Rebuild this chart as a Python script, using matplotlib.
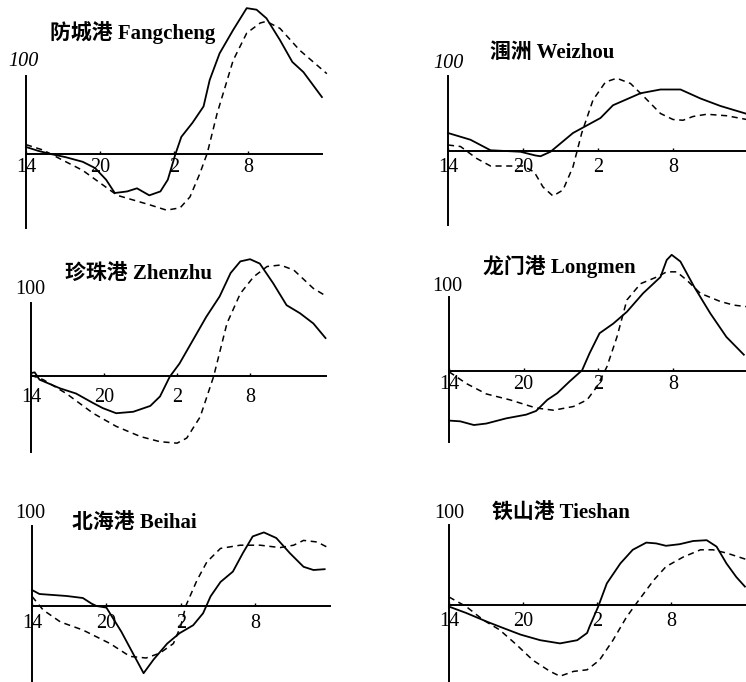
import matplotlib
matplotlib.use("Agg")
import matplotlib.pyplot as plt

# ---------------- data (hours after 14:00, value) ----------------
tick_hours = [0, 6, 12, 18]
tick_labels = ["14", "20", "2", "8"]

titles = ["防城港 Fangcheng", "涠洲 Weizhou", "珍珠港 Zhenzhu",
          "龙门港 Longmen", "北海港 Beihai", "铁山港 Tieshan"]

fang_solid_h = [0, 1, 2, 3.2, 4.6, 5.6, 6.5, 7.2, 8.2, 9.0, 10.0, 10.9, 11.5, 12.1, 12.6, 13.5,
                14.4, 14.9, 15.7, 16.8, 17.9, 18.7, 19.5, 20.6, 21.6, 22.5, 24.0]
fang_solid_v = [9, 4, 0, -4, -10, -18, -33, -50, -48, -44, -53, -48, -33, -1, 22, 40,
                61, 95, 129, 159, 187, 185, 174, 146, 118, 105, 73]
fang_dash_h = [0, 1.4, 2, 4.6, 7.4, 10, 11.4, 12.5, 13.3, 14.1, 14.7, 15.5, 16.8, 17.9, 19,
               19.5, 20.6, 22.2, 24.4]
fang_dash_v = [12, 5, 0, -21, -53, -65, -72, -69, -55, -25, 1, 52, 120, 155, 168,
               170, 161, 133, 103]

wei_solid_h = [0, 1.8, 3.4, 5.8, 7.0, 7.4, 8.2, 10, 12.2, 13.2, 15.4, 17, 18.6, 20.2, 21.8, 23.8]
wei_solid_v = [24, 15, 1, -1, -6, -7, -1, 24, 44, 61, 77, 82, 82, 70, 60, 50]
wei_dash_h = [0, 1, 2.3, 3.4, 4.7, 6.0, 6.9, 7.6, 8.4, 9.2, 10, 10.7, 11.6, 12.6, 13.5, 14.6,
              15.7, 17, 18, 18.8, 19.6, 20.7, 22.3, 23.9]
wei_dash_v = [8, 6, -10, -20, -20, -20, -28, -48, -60, -52, -21, 24, 68, 92, 97, 90,
              72, 50, 42, 41, 46, 49, 47, 42]

zhen_solid_h = [0, 0.3, 0.7, 2.4, 3.7, 5.1, 5.9, 7, 8.4, 9.8, 10.6, 11.4, 12.2, 13.3, 14.4,
                15.5, 16.4, 17.2, 18, 18.8, 19.9, 21, 22.1, 23.2, 24.2]
zhen_solid_v = [4, 5, -5, -17, -24, -37, -44, -51, -49, -41, -28, -1, 17, 49, 81,
                109, 141, 157, 160, 154, 127, 97, 86, 72, 52]
zhen_dash_h = [0, 1, 2.9, 5.1, 7, 9, 10.6, 12, 12.8, 13.9, 15, 16.1, 17.2, 18.3, 19.4, 20.5,
               21.6, 23.2, 24.3]
zhen_dash_v = [1, -5, -24, -51, -69, -83, -90, -92, -85, -56, -1, 72, 113, 136, 150, 152,
               145, 120, 109]

long_solid_h = [0, 0.9, 2, 3, 4.6, 6.2, 7, 7.9, 8.7, 9.7, 10.7, 11.3, 12.1, 13.2, 14.3, 15.6,
                17, 17.5, 17.9, 18.6, 19.7, 21, 22.3, 23.7]
long_solid_v = [-67, -68, -73, -71, -64, -59, -54, -39, -30, -14, 1, 24, 51, 64, 80, 105,
                127, 150, 157, 148, 114, 78, 46, 22]
long_dash_h = [0, 1.4, 3, 4.9, 7, 8.4, 10, 11.1, 11.9, 12.7, 13.5, 14.3, 15.4, 16.7, 17.5,
               18.3, 19.1, 20.2, 21.8, 22.9, 23.9]
long_dash_v = [-1, -17, -31, -39, -50, -53, -48, -39, -21, 6, 46, 96, 118, 127, 134,
               134, 123, 105, 94, 89, 87]

bei_solid_h = [0, 0.6, 2.8, 4.1, 4.8, 5.2, 6.0, 7.2, 9, 9.8, 10.9, 11.9, 13, 13.8, 14.4, 15.2,
               16.2, 17, 17.8, 18.7, 19.7, 20.8, 21.9, 22.7, 23.6]
bei_solid_v = [20, 15, 12.5, 10, 3, 0, -2, -32, -84, -67, -47, -34, -24, -9, 12, 30,
               43, 66, 87, 92, 85, 66, 49, 45, 46]
bei_dash_h = [0, 0.9, 2.3, 4.1, 6.3, 7.9, 9.2, 10.3, 11.4, 12.0, 12.4, 13.3, 14.1, 15.2, 16.8,
              18.4, 20, 21.1, 21.9, 23, 24]
bei_dash_v = [12, -5, -20, -30, -47, -63, -65, -59, -47, -25, 0, 32, 55, 72, 76,
              76, 73, 76, 82, 80, 72]

tie_solid_h = [0, 1.4, 3.1, 4.1, 5.8, 7.4, 9, 10.4, 11.2, 11.4, 12.1, 12.8, 13.9, 14.9, 16,
               16.8, 17.6, 18.7, 19.8, 20.9, 21.7, 22.5, 23.3, 24]
tie_solid_v = [-2, -10, -21, -27, -37, -44, -48, -44, -35, -27, -2, 27, 52, 69, 78,
               77, 74, 76, 80, 81, 73, 52, 35, 23]
tie_dash_h = [0, 1.4, 2.8, 4.1, 5.5, 6.8, 8.2, 9, 10.1, 11.2, 12.2, 13.3, 14.4, 15.2, 16.6,
              17.6, 19, 20.4, 21.4, 22.5, 24.1]
tie_dash_v = [10, -2, -19, -31, -50, -69, -83, -89, -83, -81, -69, -44, -15, 2, 31,
              48, 60, 69, 69, 65, 57]

solids = [(fang_solid_h, fang_solid_v), (wei_solid_h, wei_solid_v), (zhen_solid_h, zhen_solid_v),
          (long_solid_h, long_solid_v), (bei_solid_h, bei_solid_v), (tie_solid_h, tie_solid_v)]
dashes = [(fang_dash_h, fang_dash_v), (wei_dash_h, wei_dash_v), (zhen_dash_h, zhen_dash_v),
          (long_dash_h, long_dash_v), (bei_dash_h, bei_dash_v), (tie_dash_h, tie_dash_v)]

# ---------------- layout (pixels) ----------------
W, H = 746, 682
# x0, y0 (axis origin), px/hour, px per 100 units, x-axis end (h), y-axis bottom (value),
# tick label pad, "100" position, title position, italic "100"
layout = [
    (26, 154, 12.33, 78, 24.0, -95, 3, (8, 61), (50, 33), True),
    (448, 151, 12.5, 75, 23.8, -99, 5, (433, 63), (490, 53), True),
    (31, 376, 12.17, 73, 24.2, -104, 9, (15, 289), (65, 275), False),
    (449, 371, 12.44, 74, 23.8, -96, 3, (432, 286), (483, 267), False),
    (32, 606, 12.4, 80, 24.0, -100, 6, (15, 513), (72, 523), False),
    (449, 605, 12.33, 80, 24.0, -100, 5, (434, 513), (492, 514), False),
]

fig = plt.figure(figsize=(W / 100, H / 100), dpi=100)
fig.patch.set_facecolor("white")

serif = "Liberation Serif"
title_fam = ["Liberation Serif", "Noto Sans CJK SC"]

for i, (x0, y0, pph, ppu, xend, ybot, pad, pos100, tpos, ital) in enumerate(layout):
    s = ppu / 100.0
    left = x0 / W
    bottom = 1 - (y0 + 100 * s) / H
    width = 24 * pph / W
    height = 300 * s / H
    ax = fig.add_axes([left, bottom, width, height])
    ax.set_xlim(0, 24)
    ax.set_ylim(-100, 200)
    ax.patch.set_alpha(0)
    for sp in ("top", "right"):
        ax.spines[sp].set_visible(False)
    ax.spines["bottom"].set_position(("data", 0))
    ax.spines["left"].set_position(("data", 0))
    ax.spines["bottom"].set_bounds(0, xend)
    ax.spines["left"].set_bounds(ybot, 100)
    for sp in ("bottom", "left"):
        ax.spines[sp].set_linewidth(1.4)
        ax.spines[sp].set_color("black")
    ax.set_xticks(tick_hours)
    ax.set_xticklabels(tick_labels, fontfamily=serif, fontsize=14.5)
    ax.tick_params(axis="x", direction="in", length=2.5, width=1, pad=pad)
    ax.set_yticks([])
    lbl0 = ax.get_xticklabels()[0]
    lbl0.set_bbox(dict(facecolor="white", edgecolor="none", pad=0.5))

    hs, vs = solids[i]
    ax.plot(hs, vs, color="black", lw=1.3, clip_on=False, solid_joinstyle="round")
    hd, vd = dashes[i]
    ax.plot(hd, vd, color="black", lw=1.1, linestyle=(0, (4, 3)), clip_on=False)

    fig.text(pos100[0] / W, 1 - pos100[1] / H, "100", fontfamily=serif, fontsize=14.5,
             style="italic" if ital else "normal", ha="left", va="center")
    fig.text(tpos[0] / W, 1 - tpos[1] / H, titles[i], fontfamily=title_fam, fontsize=15,
             fontweight="bold", ha="left", va="center")

fig.savefig("out.png", dpi=100)
